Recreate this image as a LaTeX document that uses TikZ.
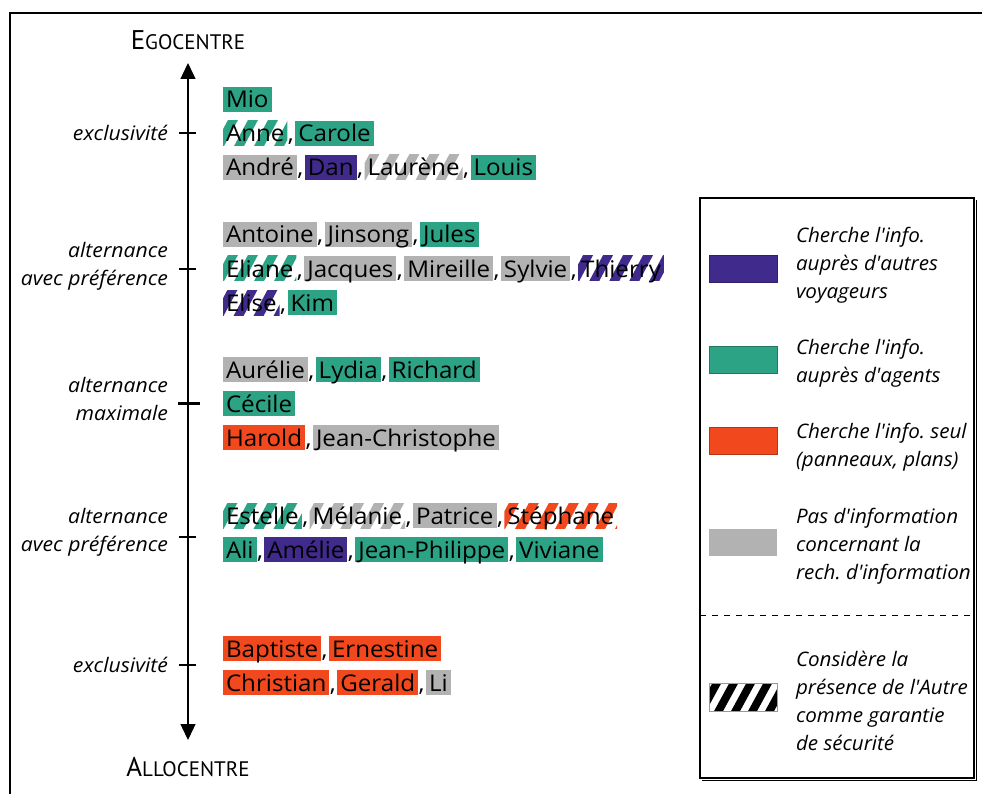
\documentclass[tikz,border=0pt]{standalone}
\usepackage{fontspec}
\setmainfont{Open Sans}
\newfontfamily\namefamily[FakeStretch=1.05]{Open Sans}
\newfontfamily\labfamily[FakeStretch=1.06]{Open Sans}
\newfontfamily\legfamily[FakeStretch=1.03]{Open Sans}
\newfontfamily\capsfont{PT Sans}
\usetikzlibrary{arrows.meta}
\definecolor{cteal}{RGB}{43,163,132}
\definecolor{cpurple}{RGB}{64,42,140}
\definecolor{corange}{RGB}{242,72,30}
\definecolor{cgray}{RGB}{178,178,178}
\newcommand\namefont{\namefamily\fontsize{23}{24}\selectfont}
\newcommand\labfont{\labfamily\fontsize{20}{28}\selectfont\itshape}
\newcommand\legfont{\legfamily\fontsize{20}{28}\selectfont\itshape}
\newcommand\apos{\char"27 }
% first name of a row, then each following name preceded by a comma
\newcommand\firstname[4]{\node[#2] (#1) at (#4) {#3};}
\newcommand\nextname[4]{\node[sep] (#4c) at (#4.base east) {,};
  \node[#2] (#1) at ([xshift=1pt]#4c.base east) {#3};}
\frenchspacing
\begin{document}
\begin{tikzpicture}[x=1pt,y=-1pt,
  every node/.style={inner sep=0pt,outer sep=0pt},
  pname/.style={font=\namefont, anchor=base west, inner xsep=3pt, inner ysep=0pt,
    text height=21pt, text depth=4pt},
  plain box/.style={pname, fill=#1},
  hatch box/.style={pname, path picture={
    \foreach \k in {0,...,14}{
      \fill[#1] ([xshift={\k*20pt-30pt}, yshift=-2pt]path picture bounding box.south west)
        -- ++(10pt,0pt) -- ++(16pt,30pt) -- ++(-10pt,0pt) -- cycle;
    }}},
  sep/.style={font=\namefont, anchor=base west, inner xsep=0.5pt},
  lab/.style={font=\labfont, align=right, anchor=east},
  leg/.style={font=\legfont, align=left, anchor=west},
  swatch/.style={minimum width=68pt, minimum height=27pt, draw=#1!75!black, fill=#1, line width=0.7pt},
  tick/.style={line width=1.4pt},
]
\useasboundingbox (0,0) rectangle (982,794);
\clip (0,0) rectangle (982,794);

% outer frame
\draw[line width=1.6pt] (10,820) -- (10,13) -- (1000,13);

% vertical axis
\coordinate (top) at (188,63);
\coordinate (bot) at (188,740);
\draw[line width=1.4pt, {Triangle[width=15pt,length=16pt]}-{Triangle[width=15pt,length=16pt]}] (bot) -- (top);
\node (ego) at (188,40) {\capsfont\fontsize{27}{27}\selectfont E\fontsize{21}{21}\selectfont GOCENTRE};
\node (allo) at (188,767) {\capsfont\fontsize{27}{27}\selectfont A\fontsize{21}{21}\selectfont LLOCENTRE};

% ticks
\coordinate (t1) at (188,133);
\coordinate (t2) at (188,269);
\coordinate (t3) at (188,403);
\coordinate (t4) at (188,537);
\coordinate (t5) at (188,665);
\draw[tick] ([xshift=-9pt]t1) -- ([xshift=8pt]t1);
\draw[tick] ([xshift=-9pt]t2) -- ([xshift=8pt]t2);
\draw[line width=3pt] ([xshift=-10pt]t3) -- ([xshift=12pt]t3);
\draw[tick] ([xshift=-9pt]t4) -- ([xshift=8pt]t4);
\draw[tick] ([xshift=-9pt]t5) -- ([xshift=8pt]t5);

% axis labels
\node[lab] (l1) at (168,133) {exclusivité};
\node[lab] (l2) at (168,266) {alternance\\avec préférence};
\node[lab] (l3) at (168,399) {alternance\\maximale};
\node[lab] (l4) at (168,532) {alternance\\avec préférence};
\node[lab] (l5) at (168,665) {exclusivité};

% names
\firstname{mio}{plain box=cteal}{Mio}{223,108}

\firstname{anne}{hatch box=cteal}{Anne}{223,142}
\nextname{carole}{plain box=cteal}{Carole}{anne}

\firstname{andre}{plain box=cgray}{André}{223,176}
\nextname{dan}{plain box=cpurple}{Dan}{andre}
\nextname{laurene}{hatch box=cgray}{Laurène}{dan}
\nextname{louis}{plain box=cteal}{Louis}{laurene}

\firstname{antoine}{plain box=cgray}{Antoine}{223,243}
\nextname{jinsong}{plain box=cgray}{Jinsong}{antoine}
\nextname{jules}{plain box=cteal}{Jules}{jinsong}

\firstname{eliane}{hatch box=cteal}{Eliane}{223,277}
\nextname{jacques}{plain box=cgray}{Jacques}{eliane}
\nextname{mireille}{plain box=cgray}{Mireille}{jacques}
\nextname{sylvie}{plain box=cgray}{Sylvie}{mireille}
\nextname{thierry}{hatch box=cpurple}{Thierry}{sylvie}

\firstname{elise}{hatch box=cpurple}{Elise}{223,311}
\nextname{kim}{plain box=cteal}{Kim}{elise}

\firstname{aurelie}{plain box=cgray}{Aurélie}{223,378}
\nextname{lydia}{plain box=cteal}{Lydia}{aurelie}
\nextname{richard}{plain box=cteal}{Richard}{lydia}

\firstname{cecile}{plain box=cteal}{Cécile}{223,412}

\firstname{harold}{plain box=corange}{Harold}{223,446}
\nextname{jeanchr}{plain box=cgray}{Jean-Christophe}{harold}

\firstname{estelle}{hatch box=cteal}{Estelle}{223,524}
\nextname{melanie}{hatch box=cgray}{Mélanie}{estelle}
\nextname{patrice}{plain box=cgray}{Patrice}{melanie}
\nextname{stephane}{hatch box=corange}{Stéphane}{patrice}

\firstname{ali}{plain box=cteal}{Ali}{223,558}
\nextname{amelie}{plain box=cpurple}{Amélie}{ali}
\nextname{jeanphi}{plain box=cteal}{Jean-Philippe}{amelie}
\nextname{viviane}{plain box=cteal}{Viviane}{jeanphi}

\firstname{baptiste}{plain box=corange}{Baptiste}{223,657}
\nextname{ernestine}{plain box=corange}{Ernestine}{baptiste}

\firstname{christian}{plain box=corange}{Christian}{223,691}
\nextname{gerald}{plain box=corange}{Gerald}{christian}
\nextname{li}{plain box=cgray}{Li}{gerald}

% legend
\draw[line width=1.4pt] (700,198) rectangle (974,778);
\draw[line width=0.9pt] (976,200) -- (976,780) -- (702,780);
\draw[dashed, dash pattern=on 6pt off 6pt, line width=0.9pt] (700,615) -- (974,615);

\node[swatch=cpurple] (sw1) at (743,269) {};
\node[swatch=cteal] (sw2) at (743,359.5) {};
\node[swatch=corange] (sw3) at (743,441) {};
\node[minimum width=68pt, minimum height=27pt, fill=cgray] (sw4) at (743,542) {};
\node[minimum width=68pt, minimum height=28pt, draw=black!40, line width=0.5pt, path picture={
    \foreach \k in {0,...,8}{
      \fill[black] ([xshift={\k*17pt-30pt}, yshift=-2pt]path picture bounding box.south west)
        -- ++(9pt,0pt) -- ++(18pt,33pt) -- ++(-9pt,0pt) -- cycle;
    }}] (sw5) at (743,697) {};

\node[leg] (lt1) at (796,265) {Cherche l\apos info.\\auprès d\apos autres\\voyageurs};
\node[leg] (lt2) at (796,363) {Cherche l\apos info.\\auprès d\apos agents};
\node[leg] (lt3) at (796,447) {Cherche l\apos info. seul\\(panneaux, plans)};
\node[leg] (lt4) at (796,546) {Pas d\apos information\\concernant la\\rech. d\apos information};
\node[leg] (lt5) at (796,701) {Considère la\\présence de l\apos Autre\\comme garantie\\de sécurité};
\end{tikzpicture}
\end{document}
